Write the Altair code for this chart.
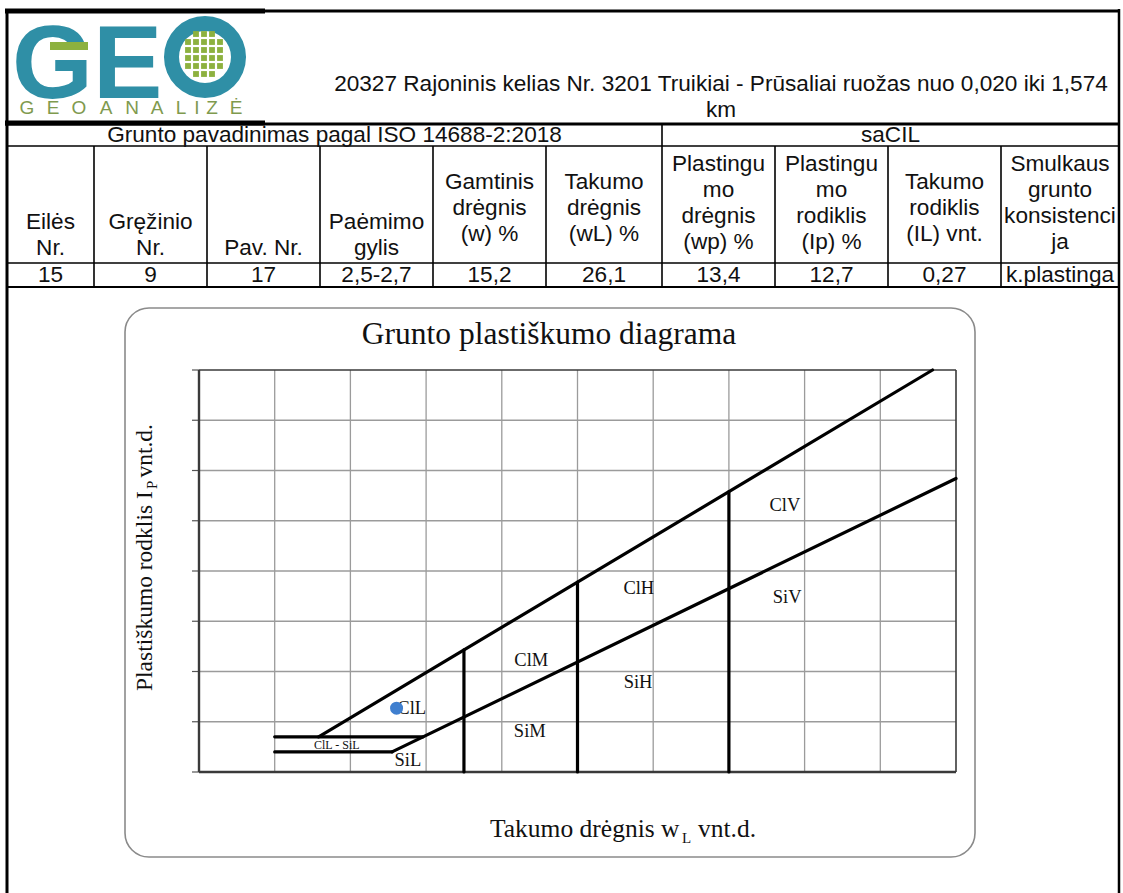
import altair as alt
import pandas as pd

# ---------------- data (texts and values) ----------------
HEADER_TITLE = "20327 Rajoninis kelias Nr. 3201 Truikiai - Prūsaliai ruožas nuo 0,020 iki 1,574"
HEADER_TITLE2 = "km"
SECTION_LEFT = "Grunto pavadinimas pagal ISO 14688-2:2018"
SECTION_RIGHT = "saCIL"
COLUMN_HEADERS = [
    ["Eilės", "Nr."],
    ["Gręžinio", "Nr."],
    ["Pav. Nr."],
    ["Paėmimo", "gylis"],
    ["Gamtinis", "drėgnis", "(w) %"],
    ["Takumo", "drėgnis", "(wL) %"],
    ["Plastingu", "mo", "drėgnis", "(wp) %"],
    ["Plastingu", "mo", "rodiklis", "(Ip) %"],
    ["Takumo", "rodiklis", "(IL) vnt."],
    ["Smulkaus", "grunto", "konsistenci", "ja"],
]
ROW_VALUES = ["15", "9", "17", "2,5-2,7", "15,2", "26,1", "13,4", "12,7", "0,27", "k.plastinga"]

LOGO_WORD = ["G", "E", "O", "A", "N", "A", "L", "I", "Z", "Ė"]

CHART_TITLE = "Grunto plastiškumo diagrama"

# plasticity chart grid ticks (wL and Ip, vnt.d. x100)
X_TICKS = [0, 10, 20, 30, 40, 50, 60, 70, 80, 90, 100]
Y_TICKS = [0, 10, 20, 30, 40, 50, 60, 70, 80]

# boundary segments: start (wL, Ip) -> end (wL, Ip)
SEG_WL_START = [10, 10, 15.8, 25.5, 35, 50, 70]
SEG_IP_START = [7, 4, 7, 4, 0, 0, 0]
SEG_WL_END = [29.6, 25.5, 96.9, 100, 35, 50, 70]
SEG_IP_END = [7, 4, 80, 58.4, 24.3, 37.8, 55.8]

# zone labels
ZONE_NAMES = ["ClV", "SiV", "ClH", "SiH", "ClM", "SiM", "ClL", "SiL"]
ZONE_WL = [77.4, 77.7, 58.1, 58.0, 43.9, 43.7, 28.1, 27.6]
ZONE_IP = [53.1, 34.8, 36.6, 17.9, 22.3, 8.2, 12.7, 2.4]
SMALL_ZONE = ["ClL - SiL"]
SMALL_ZONE_WL = [18.2]
SMALL_ZONE_IP = [5.4]

# sample point
SAMPLE_WL = [26.1]
SAMPLE_IP = [12.7]

# ---------------- layout (page pixels) ----------------
W, H = 1123, 893
COL_EDGES = [7, 94, 207, 320, 433, 546, 662, 775, 888, 1001, 1119]
HEADER_FIRST_LINE_Y = [222, 222, 248, 222, 182, 182, 164, 164, 182, 164]
LINE_STEP = 26
SANS = "Liberation Sans, Arial, sans-serif"
SERIF = "Liberation Serif, Times New Roman, serif"
TEAL = "#2f8fa6"
GREEN = "#8db13f"
TXT = 22.6

XS = alt.Scale(domain=[0, 100], range=[199, 956], nice=False, zero=False)
YS = alt.Scale(domain=[0, 80], range=[772, 370], nice=False, zero=False)


def page_rules(df, color="black"):
    return alt.Chart(df).mark_rule(color=color).encode(
        x=alt.X("x:Q", scale=None, axis=None),
        x2="x2:Q",
        y=alt.Y("y:Q", scale=None, axis=None),
        y2="y2:Q",
        strokeWidth=alt.StrokeWidth("w:Q", scale=None, legend=None),
    )


def page_text(df, **kw):
    base = dict(font=SANS, fontSize=TXT, color="#111", align="center", baseline="middle")
    base.update(kw)
    return alt.Chart(df).mark_text(**base).encode(
        x=alt.X("x:Q", scale=None, axis=None),
        y=alt.Y("y:Q", scale=None, axis=None),
        text="t:N",
    )


# ---- table lines ----
lines = [
    (5, 1119, 11, 11, 3),
    (5, 265, 11, 11, 5),
    (5, 1119, 124, 124, 3),
    (5, 265, 123, 123, 5),
    (7, 1119, 146, 146, 1.6),
    (7, 1119, 263, 263, 1.6),
    (7, 1119, 287, 287, 2),
    (7, 7, 9, 893, 3),
    (1119, 1119, 9, 893, 2.5),
    (662, 662, 124, 287, 1.6),
]
for xe in COL_EDGES[1:-1]:
    if xe != 662:
        lines.append((xe, xe, 146, 287, 1.6))
lines_df = pd.DataFrame(lines, columns=["x", "x2", "y", "y2", "w"])

centers = [(a + b) / 2 for a, b in zip(COL_EDGES[:-1], COL_EDGES[1:])]

hdr_rows = []
for i, (cell, y0) in enumerate(zip(COLUMN_HEADERS, HEADER_FIRST_LINE_Y)):
    for j, t in enumerate(cell):
        hdr_rows.append({"x": centers[i], "y": y0 + j * LINE_STEP, "t": t})
hdr_df = pd.DataFrame(hdr_rows)

val_df = pd.DataFrame({"x": centers, "y": [275] * len(centers), "t": ROW_VALUES})

top_df = pd.DataFrame({
    "x": [721, 721, (7 + 662) / 2, (662 + 1119) / 2],
    "y": [84, 110, 135, 135],
    "t": [HEADER_TITLE, HEADER_TITLE2, SECTION_LEFT, SECTION_RIGHT],
})

# ---- logo ----
logo_ge = alt.Chart(pd.DataFrame({"t": ["GE"]})).mark_text(
    font="Liberation Sans", fontWeight="bold",
    fontSize=104, color=TEAL, align="left", baseline="alphabetic"
).encode(x=alt.value(12), y=alt.value(98), text="t:N")

logo_ring = alt.Chart(pd.DataFrame({"t": ["O"]})).mark_arc(
    innerRadius=26, outerRadius=41, theta=0, theta2=6.2832, color=TEAL
).encode(x=alt.value(205), y=alt.value(57))

logo_bar = alt.Chart(pd.DataFrame({"t": ["bar"]})).mark_rect(color=GREEN).encode(
    x=alt.value(50), x2=alt.value(88), y=alt.value(42), y2=alt.value(50)
)

sq = []
for r, yy in enumerate([34, 42, 50, 58, 66, 74]):
    cols = [196, 204, 212] if r in (0, 5) else [188, 196, 204, 212, 220]
    for xx in cols:
        sq.append({"x": xx, "y": yy})
logo_sq = alt.Chart(pd.DataFrame(sq)).mark_square(size=34, color=GREEN, opacity=1).encode(
    x=alt.X("x:Q", scale=None, axis=None), y=alt.Y("y:Q", scale=None, axis=None)
)

letter_x = [27, 53, 79, 106, 132, 157, 181, 197, 212, 236]
logo_word = page_text(
    pd.DataFrame({"x": letter_x, "y": [108] * 10, "t": LOGO_WORD}),
    fontSize=19, color="#7f9a4e", font="Liberation Sans"
)

# ---- plasticity chart frame ----
frame = alt.Chart(pd.DataFrame({"t": ["frame"]})).mark_rect(
    fill="white", stroke="#8a8a8a", strokeWidth=1.6, cornerRadius=24
).encode(x=alt.value(125), x2=alt.value(975), y=alt.value(308), y2=alt.value(857))

chart_title = alt.Chart(pd.DataFrame({"t": [CHART_TITLE]})).mark_text(
    font=SERIF, fontSize=31.5, color="#111", align="center", baseline="alphabetic"
).encode(x=alt.value(549), y=alt.value(344), text="t:N")

# grid lines
vgrid = alt.Chart(pd.DataFrame({"wl": X_TICKS[1:-1], "lo": 0, "hi": 80})).mark_rule(
    color="#9b9b9b", strokeWidth=1.3
).encode(
    x=alt.X("wl:Q", scale=XS, axis=None),
    y=alt.Y("lo:Q", scale=YS, axis=None),
    y2="hi:Q",
)
hgrid = alt.Chart(pd.DataFrame({"ip": Y_TICKS[1:-1], "lo": 0, "hi": 100})).mark_rule(
    color="#9b9b9b", strokeWidth=1.3
).encode(
    y=alt.Y("ip:Q", scale=YS, axis=None),
    x=alt.X("lo:Q", scale=XS, axis=None),
    x2="hi:Q",
)
yticks = alt.Chart(pd.DataFrame({"ip": Y_TICKS})).mark_rule(color="#555", strokeWidth=1.2).encode(
    y=alt.Y("ip:Q", scale=YS, axis=None), x=alt.value(192), x2=alt.value(199)
)
# plot border (top/right thin, left/bottom axis lines)
border_df = pd.DataFrame({
    "a": [0, 0, 0, 100], "b": [100, 100, 0, 100],
    "c": [80, 0, 0, 0], "d": [80, 0, 80, 80],
    "w": [1.6, 2.4, 2.4, 1.6],
})
border = alt.Chart(border_df).mark_rule(color="#3a3a3a").encode(
    x=alt.X("a:Q", scale=XS, axis=None), x2="b:Q",
    y=alt.Y("c:Q", scale=YS, axis=None), y2="d:Q",
    strokeWidth=alt.StrokeWidth("w:Q", scale=None, legend=None),
)

seg_df = pd.DataFrame({"x": SEG_WL_START, "y": SEG_IP_START, "x2": SEG_WL_END, "y2": SEG_IP_END})
segs = alt.Chart(seg_df).mark_rule(color="black", strokeWidth=3.2, strokeCap="round").encode(
    x=alt.X("x:Q", scale=XS, axis=None), x2="x2:Q",
    y=alt.Y("y:Q", scale=YS, axis=None), y2="y2:Q",
)

zones = alt.Chart(pd.DataFrame({"wl": ZONE_WL, "ip": ZONE_IP, "t": ZONE_NAMES})).mark_text(
    font=SERIF, fontSize=18.5, color="#111", align="center", baseline="middle"
).encode(
    x=alt.X("wl:Q", scale=XS, axis=None), y=alt.Y("ip:Q", scale=YS, axis=None), text="t:N"
)
small_zone = alt.Chart(pd.DataFrame({"wl": SMALL_ZONE_WL, "ip": SMALL_ZONE_IP, "t": SMALL_ZONE})).mark_text(
    font=SERIF, fontSize=12, color="#111", align="center", baseline="middle"
).encode(
    x=alt.X("wl:Q", scale=XS, axis=None), y=alt.Y("ip:Q", scale=YS, axis=None), text="t:N"
)

sample = alt.Chart(pd.DataFrame({"wl": SAMPLE_WL, "ip": SAMPLE_IP})).mark_circle(
    size=170, color="#3f7fcf", opacity=1
).encode(x=alt.X("wl:Q", scale=XS, axis=None), y=alt.Y("ip:Q", scale=YS, axis=None))


# axis titles with subscripts
def lbl(t, x, y, size, align, angle=0, baseline="alphabetic"):
    return alt.Chart(pd.DataFrame({"t": [t]})).mark_text(
        font=SERIF, fontSize=size, color="#111", align=align, baseline=baseline, angle=angle
    ).encode(x=alt.value(x), y=alt.value(y), text="t:N")


xt1 = lbl("Takumo drėgnis w", 490, 837, 25.5, "left")
xt2 = lbl("L", 682, 843, 15, "left")
xt3 = lbl("vnt.d.", 698, 837, 25.5, "left")

yt1 = lbl("Plastiškumo rodklis I", 152, 691, 23.5, "left", angle=270)
yt2 = lbl("P", 157, 489, 15, "left", angle=270)
yt3 = lbl("vnt.d.", 152, 424, 23.5, "right", angle=270)

chart = alt.layer(
    frame,
    page_rules(lines_df),
    page_text(top_df),
    page_text(hdr_df),
    page_text(val_df),
    logo_ge, logo_ring, logo_bar, logo_sq, logo_word,
    chart_title,
    vgrid, hgrid, yticks, border,
    segs, zones, small_zone, sample,
    xt1, xt2, xt3, yt1, yt2, yt3,
).resolve_scale(x="independent", y="independent").properties(
    width=W, height=H, padding=0, autosize=alt.AutoSizeParams(type="none"),
    background="white"
).configure_view(stroke=None)

chart.save("out.html", embed_options={"renderer": "svg", "actions": False})
